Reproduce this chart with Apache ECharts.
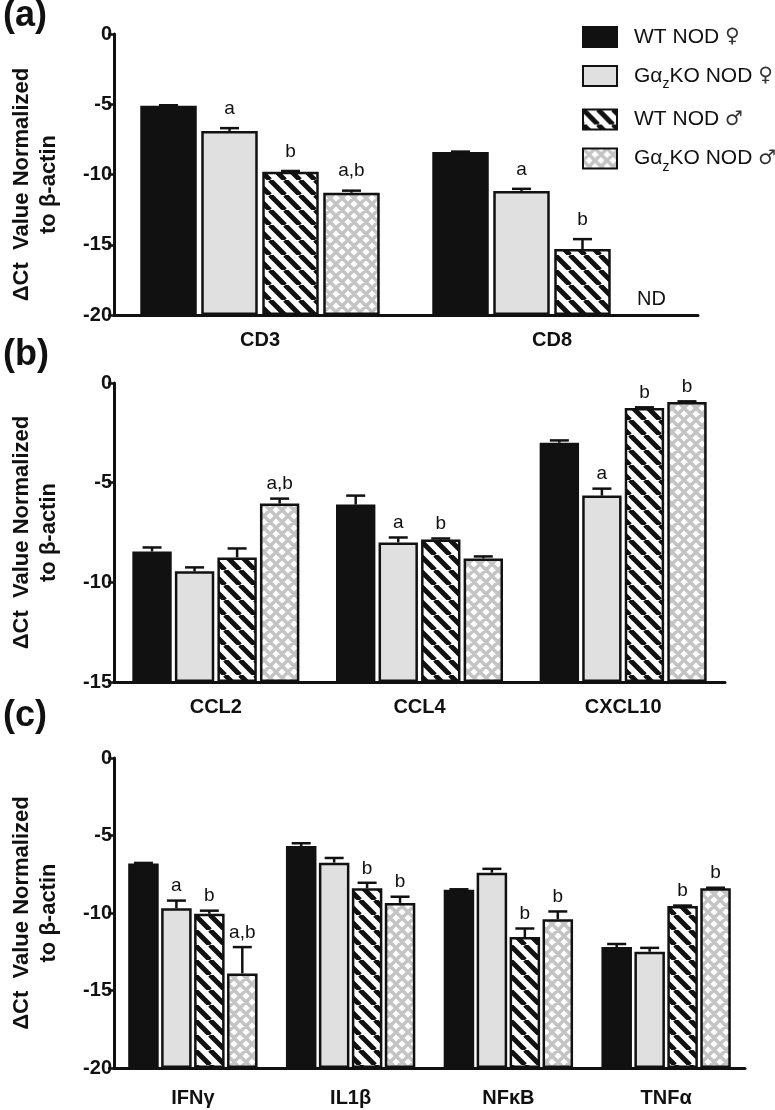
<!DOCTYPE html>
<html><head><meta charset="utf-8">
<script src="https://cdn.jsdelivr.net/npm/echarts@6/dist/echarts.min.js"></script>
<style>html,body{margin:0;padding:0;background:#fff}#c{width:775px;height:1110px}</style>
</head><body><div id="c"></div>
<script>
// ---------- data ----------
const groups = ['WT NOD ♀', 'GαzKO NOD ♀', 'WT NOD ♂', 'GαzKO NOD ♂'];

// panel (a)
const catsA = ['CD3', 'CD8'];
const aWTF = [-5.1, -8.4];     const aWTFsem = [0.03, 0.03];  const aWTFlab = ['', ''];
const aKOF = [-6.9, -11.17];   const aKOFsem = [0.2, 0.15];   const aKOFlab = ['a', 'a'];
const aWTM = [-9.8, -15.3];    const aWTMsem = [0.05, 0.7];   const aWTMlab = ['b', 'b'];
const aKOM = [-11.3, null];    const aKOMsem = [0.15, 0];     const aKOMlab = ['a,b', 'ND'];

// panel (b)
const catsB = ['CCL2', 'CCL4', 'CXCL10'];
const bWTF = [-8.45, -6.1, -3.0];   const bWTFsem = [0.2, 0.45, 0.12]; const bWTFlab = ['', '', ''];
const bKOF = [-9.45, -8.0, -5.65];  const bKOFsem = [0.2, 0.25, 0.35]; const bKOFlab = ['', 'a', 'a'];
const bWTM = [-8.75, -7.85, -1.25]; const bWTMsem = [0.45, 0.05, 0.03]; const bWTMlab = ['', 'b', 'b'];
const bKOM = [-6.05, -8.8, -0.95];  const bKOMsem = [0.25, 0.1, 0.03]; const bKOMlab = ['a,b', '', 'b'];

// panel (c)
const catsC = ['IFNγ', 'IL1β', 'NFκB', 'TNFα'];
const cWTF = [-6.8, -5.68, -8.5, -12.2];    const cWTFsem = [0.03, 0.18, 0.03, 0.2];  const cWTFlab = ['', '', '', ''];
const cKOF = [-9.7, -6.75, -7.4, -12.5];    const cKOFsem = [0.5, 0.3, 0.25, 0.25];   const cKOFlab = ['a', '', '', ''];
const cWTM = [-10.05, -8.4, -11.55, -9.55]; const cWTMsem = [0.2, 0.35, 0.55, 0.03];  const cWTMlab = ['b', 'b', 'b', 'b'];
const cKOM = [-13.9, -9.35, -10.4, -8.4];   const cKOMsem = [1.7, 0.4, 0.5, 0.03];    const cKOMlab = ['a,b', 'b', 'b', 'b'];

const yTicksA = [-20, 0], yTicksB = [-15, 0], yTicksC = [-20, 0];
const panelLetters = ['(a)', '(b)', '(c)'];
const yName = 'ΔCt  Value Normalized\nto β-actin';

// ---------- styles ----------
const FONT = '"Liberation Sans", Arial, Helvetica, sans-serif';
const INK = '#111';
const CAT_GAP = 0.18, BAR_GAP = 0.08;

function stripe() {
  const s = 15, c = document.createElement('canvas'); c.width = c.height = s;
  const g = c.getContext('2d'); g.fillStyle = '#fff'; g.fillRect(0, 0, s, s);
  g.strokeStyle = INK; g.lineWidth = 5; g.beginPath();
  for (let k = -1; k <= 1; k++) { g.moveTo(k * s, 0); g.lineTo(k * s + s, s); }
  g.stroke(); return { image: c, repeat: 'repeat' };
}
function hatch() {
  const s = 12, c = document.createElement('canvas'); c.width = c.height = s;
  const g = c.getContext('2d'); g.fillStyle = '#fff'; g.fillRect(0, 0, s, s);
  g.strokeStyle = '#c4c4c4'; g.lineWidth = 3.4; g.beginPath();
  for (let k = -1; k <= 1; k++) { g.moveTo(k * s, 0); g.lineTo(k * s + s, s); }
  for (let k = 0; k <= 2; k++) { g.moveTo(k * s, 0); g.lineTo(k * s - s, s); }
  g.stroke(); return { image: c, repeat: 'repeat' };
}
const fills = [INK, '#e0e0e0', stripe(), hatch()];

const panels = [
  { cats: catsA, vals: [aWTF, aKOF, aWTM, aKOM], sems: [aWTFsem, aKOFsem, aWTMsem, aKOMsem], labs: [aWTFlab, aKOFlab, aWTMlab, aKOMlab],
    ticks: yTicksA, grid: { left: 113, top: 34, width: 585, height: 281 }, lblGap: 10, xMargin: 15, namePad: 20 },
  { cats: catsB, vals: [bWTF, bKOF, bWTM, bKOM], sems: [bWTFsem, bKOFsem, bWTMsem, bKOMsem], labs: [bWTFlab, bKOFlab, bWTMlab, bKOMlab],
    ticks: yTicksB, grid: { left: 107, top: 383, width: 618, height: 299 }, lblGap: 5, xMargin: 15, namePad: 0 },
  { cats: catsC, vals: [cWTF, cKOF, cWTM, cKOM], sems: [cWTFsem, cKOFsem, cWTMsem, cKOMsem], labs: [cWTFlab, cKOFlab, cWTMlab, cKOMlab],
    ticks: yTicksC, grid: { left: 102, top: 758, width: 643, height: 310 }, lblGap: 5, xMargin: 20, namePad: 0 }
];

const grid = [], xAxis = [], yAxis = [], series = [], graphic = [];
panels.forEach((p, pi) => {
  grid.push(Object.assign({ containLabel: false }, p.grid));
  xAxis.push({ type: 'category', gridIndex: pi, data: p.cats,
    axisLine: { onZero: false, lineStyle: { color: INK, width: 3 } }, axisTick: { show: false },
    axisLabel: { color: INK, fontFamily: FONT, fontWeight: 'bold', fontSize: 20, margin: p.xMargin } });
  yAxis.push({ type: 'value', gridIndex: pi, min: p.ticks[0], max: p.ticks[1], interval: 5, startValue: p.ticks[0],
    name: yName, nameLocation: 'middle', nameRotate: 90, nameGap: 52,
    nameTextStyle: { color: INK, fontFamily: FONT, fontWeight: 'bold', fontSize: 22, lineHeight: 27,
      padding: [0, p.namePad, 0, 0] },
    axisLine: { show: true, lineStyle: { color: INK, width: 3 } },
    axisTick: { show: true, length: 6, lineStyle: { color: INK, width: 2.5 } },
    splitLine: { show: false },
    axisLabel: { color: INK, fontFamily: FONT, fontWeight: 'bold', fontSize: 20, margin: 2 } });
  for (let k = 0; k < 4; k++) {
    series.push({ type: 'bar', name: groups[k], xAxisIndex: pi, yAxisIndex: pi,
      data: p.vals[k].map(v => v === null ? '-' : v),
      barCategoryGap: (CAT_GAP * 100) + '%', barGap: (BAR_GAP * 100) + '%',
      itemStyle: { color: fills[k], borderColor: INK, borderWidth: 2.5 },
      silent: true, animation: false });
  }
  for (let k = 0; k < 4; k++) {
    const vals = p.vals[k], sems = p.sems[k], labs = p.labs[k];
    series.push({ type: 'custom', xAxisIndex: pi, yAxisIndex: pi, silent: true, animation: false, z: 5,
      data: vals.map((v, i) => [i, v === null ? p.ticks[0] : v, sems[i]]),
      renderItem: (params, api) => {
        const ci = api.value(0), v = api.value(1), sem = api.value(2);
        const band = api.size([1, 0])[0];
        const rem = band * (1 - CAT_GAP);
        const bw = rem / (4 + 3 * BAR_GAP);
        const sum = bw * 4 + BAR_GAP * bw * 3;
        const off = -sum / 2 + k * bw * (1 + BAR_GAP) + bw / 2;
        const pt = api.coord([ci, v]);
        const x = pt[0] + off, y0 = pt[1];
        const lab = labs[params.dataIndex];
        const children = [];
        let yTop = y0;
        if (vals[params.dataIndex] !== null) {
          yTop = api.coord([ci, v + sem])[1];
          children.push({ type: 'line', shape: { x1: x, y1: y0, x2: x, y2: yTop }, style: { stroke: INK, lineWidth: 2.5 } });
          children.push({ type: 'line', shape: { x1: x - 9.5, y1: yTop, x2: x + 9.5, y2: yTop }, style: { stroke: INK, lineWidth: 2.5 } });
        }
        if (lab) {
          const isND = lab === 'ND';
          children.push({ type: 'text', style: { text: lab, x: isND ? x + 8 : x, y: isND ? y0 - 6 : yTop - p.lblGap,
            align: 'center', verticalAlign: 'bottom', fill: INK, font: (isND ? '20px ' : '19px ') + FONT } });
        }
        return { type: 'group', children };
      } });
  }
  graphic.push({ type: 'text', left: 3, top: [-2, 337, 698][pi],
    style: { text: panelLetters[pi], font: 'bold 36px ' + FONT, fill: INK } });
});

const chart = echarts.init(document.getElementById('c'), null, { renderer: 'canvas' });
chart.setOption({
  backgroundColor: '#fff',
  animation: false,
  legend: { orient: 'vertical', left: 577, top: 21, itemWidth: 34, itemHeight: 20, itemGap: 17,
    icon: 'rect', selectedMode: false, data: groups,
    formatter: n => {
      const sym = n.slice(-1), body = n.slice(0, -1);
      const parts = body.split('Gαz');
      const main = parts.length > 1 ? '{m|Gα}{sub|z}{m|' + parts[1] + '}' : '{m|' + body + '}';
      return main + '{sym|' + sym + '}';
    },
    textStyle: { color: INK, fontFamily: FONT, fontSize: 21, padding: [0, 0, 0, 12],
      rich: {
        m: { fontSize: 21, fontFamily: FONT, color: INK, lineHeight: 21, verticalAlign: 'middle' },
        sub: { fontSize: 14, fontFamily: FONT, color: INK, lineHeight: 14, verticalAlign: 'bottom' },
        sym: { fontSize: 20, fontFamily: '"DejaVu Sans", sans-serif', color: '#333', lineHeight: 31, verticalAlign: 'middle' }
      } } },
  grid, xAxis, yAxis, series, graphic
});
</script></body></html>
